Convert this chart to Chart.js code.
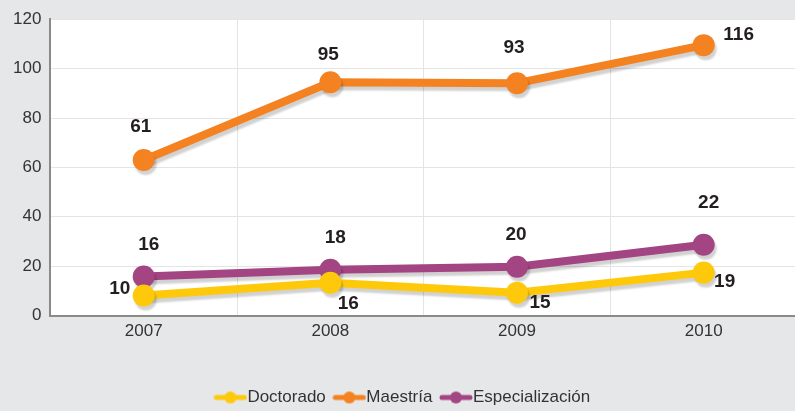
<!DOCTYPE html>
<html>
<head>
<meta charset="utf-8">
<script src="https://cdn.jsdelivr.net/npm/chart.js@4.4.0/dist/chart.umd.min.js"></script>
<style>
  html, body { margin: 0; padding: 0; background: #e6e7e8; overflow: hidden; }
  #wrap { width: 795px; height: 411px; overflow: hidden; }
</style>
</head>
<body>
<div id="wrap"><canvas id="myChart" width="808" height="416"></canvas></div>
<script>
var years = ["2007", "2008", "2009", "2010"];
// plotted positions
var doctorado = [8.1, 13.3, 9.3, 17.4];
var maestria = [63, 94.5, 94.1, 109.5];
var especializacion = [15.8, 18.6, 19.8, 28.7];
// printed value labels
var doctoradoLbl = ["10", "16", "15", "19"];
var maestriaLbl = ["61", "95", "93", "116"];
var especializacionLbl = ["16", "18", "20", "22"];

var FONT = "'Liberation Sans', Arial, sans-serif";

// small legend symbol: thick line with a dot in the middle
function legendIcon(color) {
  var c = document.createElement("canvas");
  c.width = 34; c.height = 14;
  var g = c.getContext("2d");
  g.strokeStyle = color;
  g.lineWidth = 5;
  g.lineCap = "round";
  g.beginPath(); g.moveTo(3, 7); g.lineTo(31, 7); g.stroke();
  g.fillStyle = color;
  g.beginPath(); g.arc(17, 7, 6, 0, Math.PI * 2); g.fill();
  return c;
}

var bgPlugin = {
  id: "bg",
  beforeDraw: function (chart) {
    var ctx = chart.ctx, a = chart.chartArea;
    ctx.save();
    ctx.fillStyle = "#e6e7e8";
    ctx.fillRect(0, 0, chart.width, chart.height);
    ctx.fillStyle = "#ffffff";
    ctx.fillRect(a.left, a.top, a.right - a.left, a.bottom - a.top);
    ctx.restore();
  }
};

var shadowPlugin = {
  id: "shadow",
  beforeDatasetDraw: function (chart) {
    var ctx = chart.ctx;
    ctx.save();
    ctx.shadowColor = "rgba(0,0,0,0.18)";
    ctx.shadowOffsetX = 2;
    ctx.shadowOffsetY = 4;
    ctx.shadowBlur = 2;
  },
  afterDatasetDraw: function (chart) {
    chart.ctx.restore();
  }
};

var labelPlugin = {
  id: "valueLabels",
  afterDatasetsDraw: function (chart) {
    var ctx = chart.ctx;
    ctx.save();
    ctx.font = "bold 19px " + FONT;
    ctx.fillStyle = "#231f20";
    ctx.textAlign = "center";
    ctx.textBaseline = "middle";
    chart.data.datasets.forEach(function (ds, i) {
      var meta = chart.getDatasetMeta(i);
      meta.data.forEach(function (pt, j) {
        var off = ds.labelOffsets[j];
        ctx.fillText(ds.valueLabels[j], pt.x + off[0], pt.y + off[1]);
      });
    });
    ctx.restore();
  }
};

var ctx = document.getElementById("myChart");

var data = {
  labels: years,
  datasets: [
    {
      label: "Doctorado",
      data: doctorado,
      valueLabels: doctoradoLbl,
      labelOffsets: [[-24, -7], [18, 21], [23, 10], [21, 9]],
      borderColor: "#ffc90b",
      backgroundColor: "#ffc90b",
      order: 1
    },
    {
      label: "Maestría",
      data: maestria,
      valueLabels: maestriaLbl,
      labelOffsets: [[-3, -33], [-2, -27], [-3, -35], [35, -10]],
      borderColor: "#f58220",
      backgroundColor: "#f58220",
      order: 3
    },
    {
      label: "Especialización",
      data: especializacion,
      valueLabels: especializacionLbl,
      labelOffsets: [[5, -32], [5, -32], [-1, -32], [5, -42]],
      borderColor: "#a34483",
      backgroundColor: "#a34483",
      order: 2
    }
  ]
};

var myChart = new Chart(ctx, {
  type: "line",
  data: data,
  plugins: [bgPlugin, shadowPlugin, labelPlugin],
  options: {
    responsive: false,
    animation: false,
    layout: { padding: { top: 19, right: 0, left: 4, bottom: 0 } },
    elements: {
      line: { borderWidth: 8, tension: 0 },
      point: { radius: 11, hoverRadius: 11, borderWidth: 0 }
    },
    scales: {
      x: {
        offset: true,
        grid: { offset: true, color: "#e4e4e4", lineWidth: 1, drawTicks: false },
        border: { color: "#8a8a8a", width: 2 },
        ticks: { color: "#333333", font: { family: FONT, size: 17 }, padding: 6 },
        afterFit: function (scale) { scale.height += 26; }
      },
      y: {
        min: 0,
        max: 120,
        ticks: { stepSize: 20, color: "#333333", font: { family: FONT, size: 17 }, padding: 9 },
        grid: { color: "#e4e4e4", lineWidth: 1, drawTicks: false },
        border: { color: "#8a8a8a", width: 2 }
      }
    },
    plugins: {
      tooltip: { enabled: false },
      legend: {
        position: "bottom",
        labels: {
          usePointStyle: true,
          color: "#333333",
          font: { family: FONT, size: 17 },
          padding: 15,
          generateLabels: function (chart) {
            return chart.data.datasets.map(function (ds, i) {
              return {
                text: ds.label,
                pointStyle: legendIcon(ds.borderColor),
                fontColor: "#333333",
                datasetIndex: i,
                lineWidth: 0
              };
            });
          }
        }
      }
    }
  }
});
</script>
</body>
</html>
